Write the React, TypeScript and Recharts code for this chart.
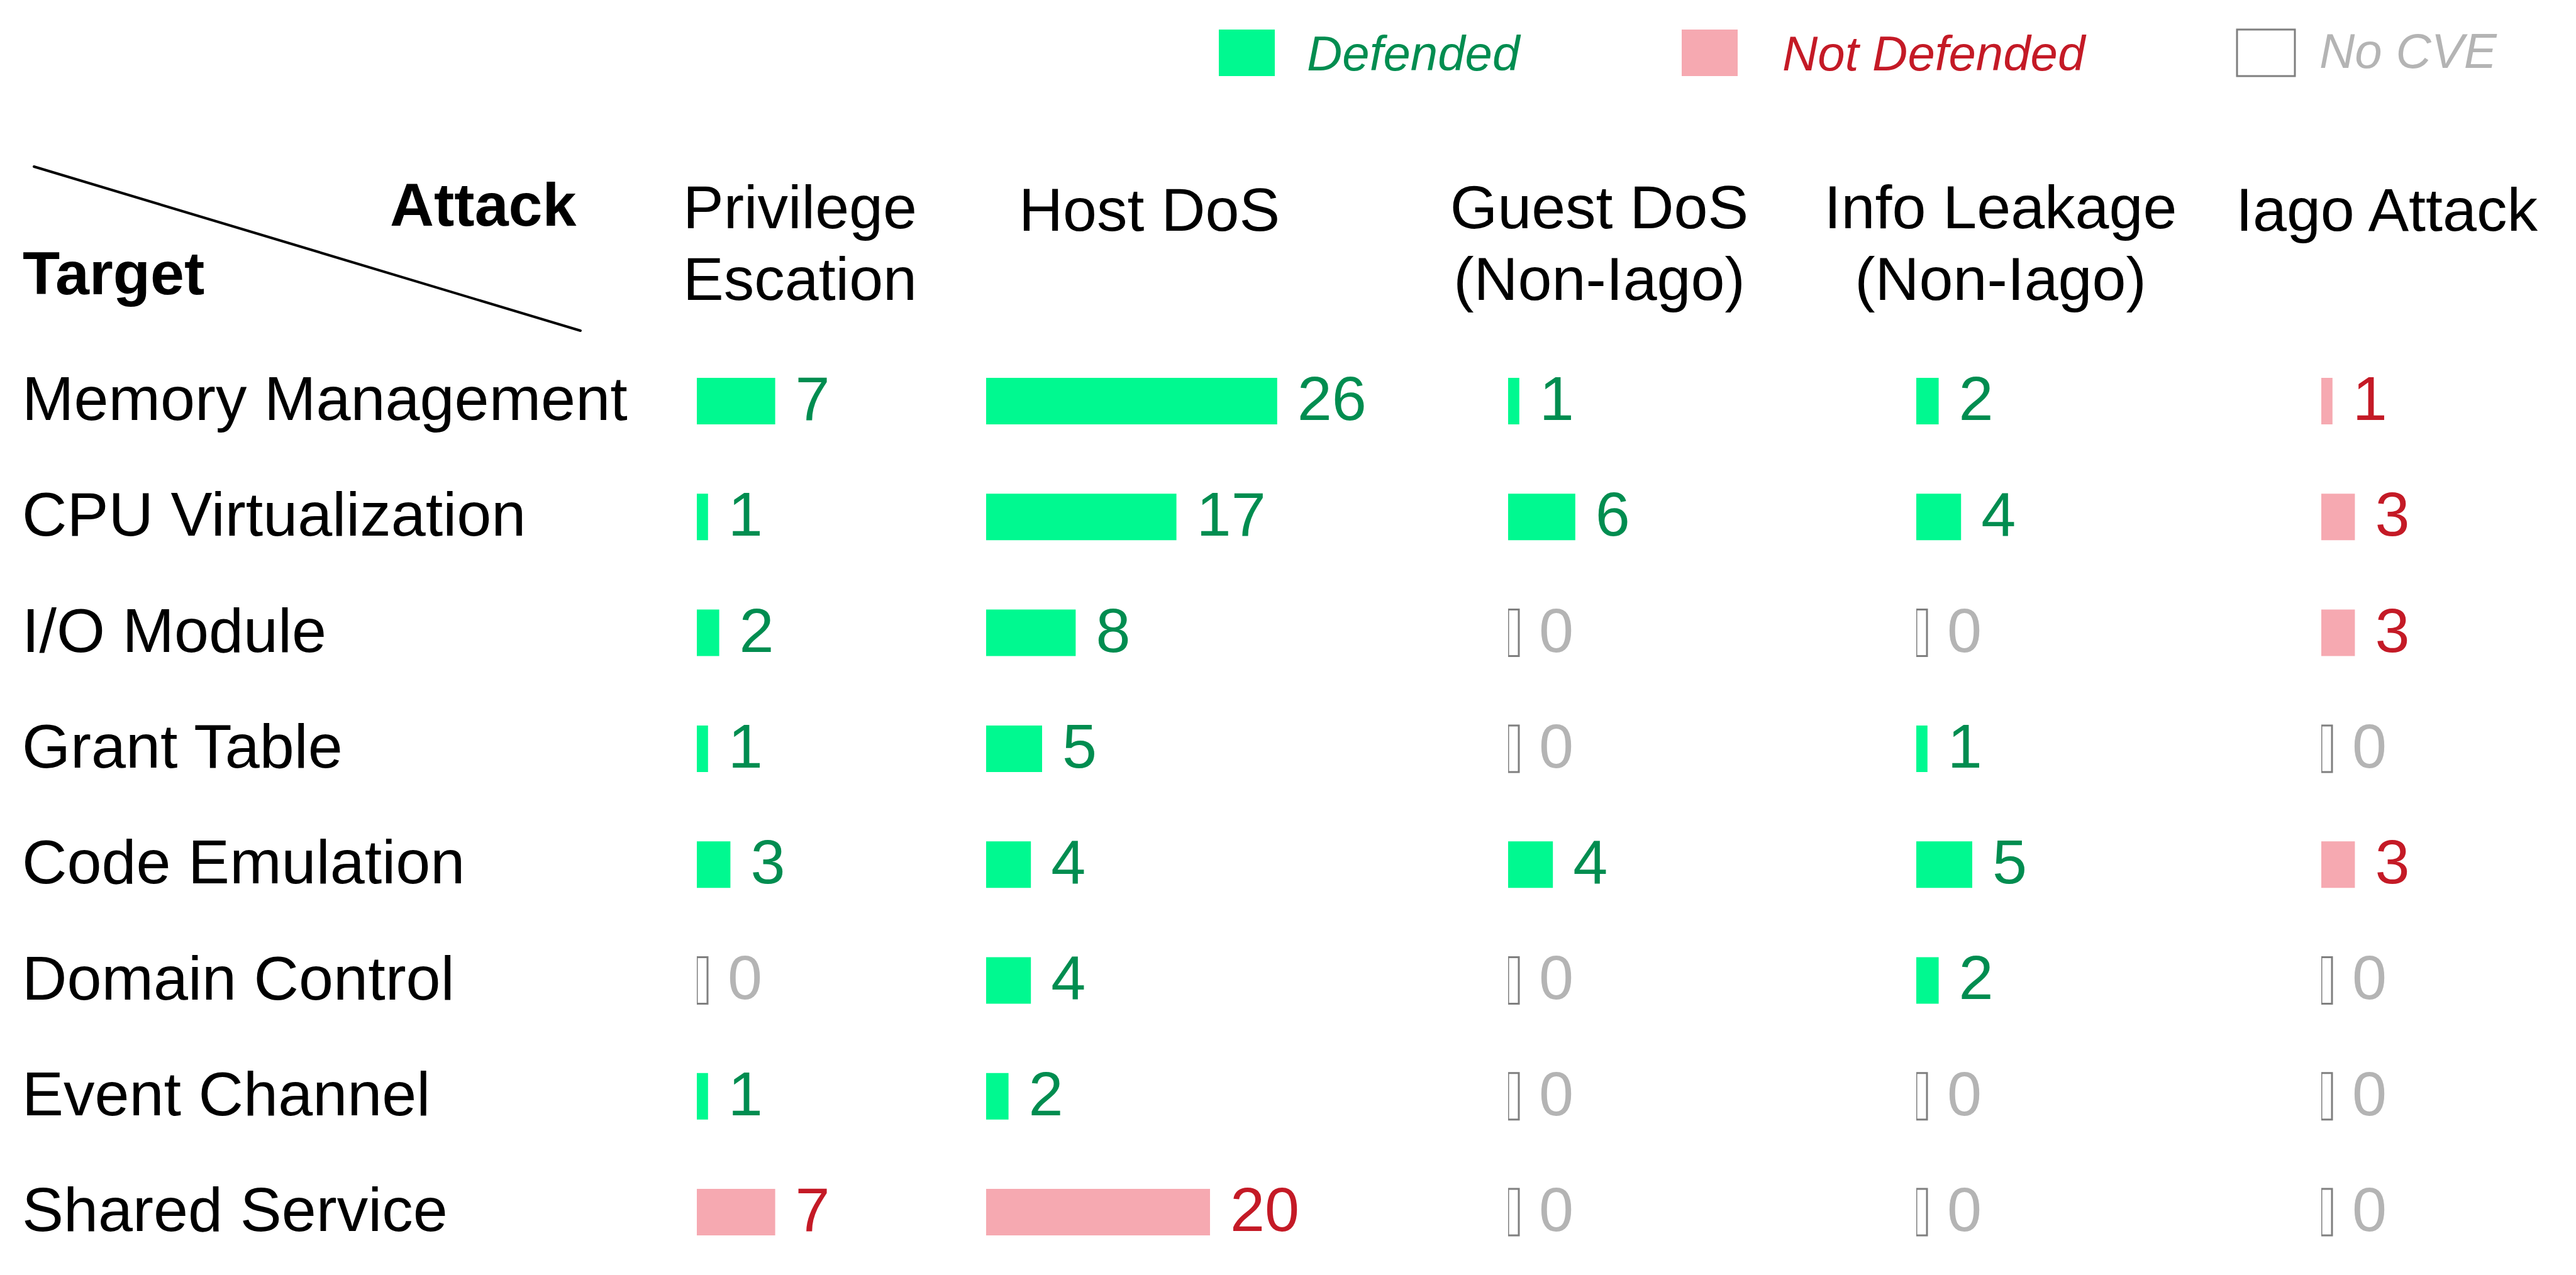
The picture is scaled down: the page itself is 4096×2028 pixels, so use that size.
import React from 'react';
import { BarChart, Bar, XAxis, YAxis, Cell, LabelList } from 'recharts';

const TARGETS = [
  'Memory Management', 'CPU Virtualization', 'I/O Module', 'Grant Table',
  'Code Emulation', 'Domain Control', 'Event Channel', 'Shared Service',
];

const ATTACK_KEYS = ['privilege', 'hostDos', 'guestDos', 'infoLeak', 'iago'];
const ATTACK_HEADERS = [
  ['Privilege', 'Escation'],
  ['Host DoS'],
  ['Guest DoS', '(Non-Iago)'],
  ['Info Leakage', '(Non-Iago)'],
  ['Iago Attack'],
];

// CVE counts per target, one list per attack
const PRIVILEGE = [7, 1, 2, 1, 3, 0, 1, 7];
const HOST_DOS = [26, 17, 8, 5, 4, 4, 2, 20];
const GUEST_DOS = [1, 6, 0, 0, 4, 0, 0, 0];
const INFO_LEAK = [2, 4, 0, 1, 5, 2, 0, 0];
const IAGO = [1, 3, 3, 0, 3, 0, 0, 0];

// defended or not, per target
const PRIVILEGE_DEF = [true, true, true, true, true, true, true, false];
const HOST_DOS_DEF = [true, true, true, true, true, true, true, false];
const GUEST_DOS_DEF = [true, true, true, true, true, true, true, true];
const INFO_LEAK_DEF = [true, true, true, true, true, true, true, true];
const IAGO_DEF = [false, false, false, false, false, false, false, false];

const LEGEND_LABELS = ['Defended', 'Not Defended', 'No CVE'];

const VALUES = [PRIVILEGE, HOST_DOS, GUEST_DOS, INFO_LEAK, IAGO];
const DEFENDED = [PRIVILEGE_DEF, HOST_DOS_DEF, GUEST_DOS_DEF, INFO_LEAK_DEF, IAGO_DEF];

const rows = TARGETS.map((target, i) => {
  const row: Record<string, string | number> = { target };
  ATTACK_KEYS.forEach((k, c) => { row[k] = VALUES[c][i]; });
  return row;
});

// layout
const W = 4096;
const H = 2028;
const FONT = '"Liberation Sans", Arial, Helvetica, sans-serif';
const FS = 97;
const ROW_FS = 99;
const COL_X = [1108, 1568, 2398, 3047, 3691];
const PX_PER_UNIT = 17.8;
const GRID_TOP = 546;
const ROW_H = 184.3;
const BAR_H = 74;
const ZERO_W = 17;
const LABEL_X = 35;
const VALUE_GAP = 32;
const BASELINE_DY = 30;

const GREEN = '#00F990';
const GREEN_TEXT = '#008D50';
const PINK = '#F6A9B1';
const RED_TEXT = '#C41A26';
const GREY_BOX = '#7F7F7F';
const GREY_TEXT = '#B4B4B4';

const HEADER_POS = [
  { x: 1086, anchor: 'start', y: [363, 477] },
  { x: 1620, anchor: 'start', y: [367] },
  { x: 2543, anchor: 'middle', y: [363, 477] },
  { x: 3181, anchor: 'middle', y: [363, 477] },
  { x: 3555, anchor: 'start', y: [367] },
];

const LEGEND_POS = [
  { box: 1938, boxW: 89, text: 2078, ty: 112 },
  { box: 2674, boxW: 89, text: 2834, ty: 112 },
  { box: 3557, boxW: 92, text: 3688, ty: 108 },
];

const status = (c: number, i: number) =>
  VALUES[c][i] === 0 ? 'none' : DEFENDED[c][i] ? 'def' : 'notdef';

const ValueLabel = (props: any, c: number) => {
  const vb = props.viewBox ?? props;
  const { x, y, width, height } = vb;
  const i = props.index;
  const st = status(c, i);
  const color = st === 'def' ? GREEN_TEXT : st === 'notdef' ? RED_TEXT : GREY_TEXT;
  return (
    <text
      x={x + width + VALUE_GAP}
      y={y + height / 2 + BASELINE_DY}
      fill={color}
      fontSize={ROW_FS}
      fontFamily={FONT}
    >
      {props.value}
    </text>
  );
};

const RowLabel = (props: any) => (
  <text x={LABEL_X} y={props.y + BASELINE_DY} fontSize={ROW_FS} fontFamily={FONT} fill="#000">
    {props.payload.value}
  </text>
);

const ColumnChart = ({ c }: { c: number }) => {
  const plotW = (c < COL_X.length - 1 ? COL_X[c + 1] : W) - COL_X[c];
  const first = c === 0;
  return (
    <div style={{ position: 'absolute', top: GRID_TOP, left: first ? 0 : COL_X[c] }}>
      <BarChart
        layout="vertical"
        width={first ? COL_X[0] + plotW : plotW}
        height={ROW_H * TARGETS.length}
        data={rows}
        margin={{ top: 0, right: 0, bottom: 0, left: 0 }}
      >
        <XAxis type="number" hide domain={[0, plotW / PX_PER_UNIT]} allowDataOverflow />
        <YAxis
          type="category"
          dataKey="target"
          hide={!first}
          width={COL_X[0]}
          axisLine={false}
          tickLine={false}
          interval={0}
          tick={RowLabel}
        />
        <Bar
          dataKey={ATTACK_KEYS[c]}
          barSize={BAR_H}
          isAnimationActive={false}
          minPointSize={(v: any) => (v === 0 ? ZERO_W : 0)}
        >
          {VALUES[c].map((_, i) => {
            const st = status(c, i);
            return st === 'none'
              ? <Cell key={i} fill="#fff" stroke={GREY_BOX} strokeWidth={3} />
              : <Cell key={i} fill={st === 'def' ? GREEN : PINK} stroke="none" />;
          })}
          <LabelList dataKey={ATTACK_KEYS[c]} content={(p: any) => ValueLabel(p, c)} />
        </Bar>
      </BarChart>
    </div>
  );
};

export default function App() {
  const legendFill = [GREEN, PINK, '#fff'];
  const legendText = [GREEN_TEXT, RED_TEXT, GREY_TEXT];
  return (
    <div style={{ position: 'relative', width: W, height: H, overflow: 'hidden', background: '#fff', fontFamily: FONT }}>
      <style>{'body{margin:0}'}</style>
      <svg width={W} height={GRID_TOP} style={{ position: 'absolute', left: 0, top: 0 }}>
        {LEGEND_LABELS.map((label, k) => (
          <g key={label}>
            <rect
              x={LEGEND_POS[k].box}
              y={47}
              width={LEGEND_POS[k].boxW}
              height={74}
              fill={legendFill[k]}
              stroke={k === 2 ? GREY_BOX : 'none'}
              strokeWidth={k === 2 ? 3 : 0}
            />
            <text
              x={LEGEND_POS[k].text}
              y={LEGEND_POS[k].ty}
              fontSize={78}
              fontStyle="italic"
              fontFamily={FONT}
              fill={legendText[k]}
            >
              {label}
            </text>
          </g>
        ))}
        <line x1={54} y1={265} x2={923} y2={526} stroke="#000" strokeWidth={4} strokeLinecap="round" />
        <text x={620} y={359} fontSize={FS} fontWeight="bold" fontFamily={FONT}>Attack</text>
        <text x={36} y={468} fontSize={FS} fontWeight="bold" fontFamily={FONT}>Target</text>
        {ATTACK_HEADERS.map((lines, c) =>
          lines.map((line, j) => (
            <text
              key={`${c}-${j}`}
              x={HEADER_POS[c].x}
              y={HEADER_POS[c].y[j]}
              textAnchor={HEADER_POS[c].anchor as any}
              fontSize={FS}
              fontFamily={FONT}
              fill="#000"
            >
              {line}
            </text>
          ))
        )}
      </svg>
      {ATTACK_KEYS.map((k, c) => <ColumnChart key={k} c={c} />)}
    </div>
  );
}
